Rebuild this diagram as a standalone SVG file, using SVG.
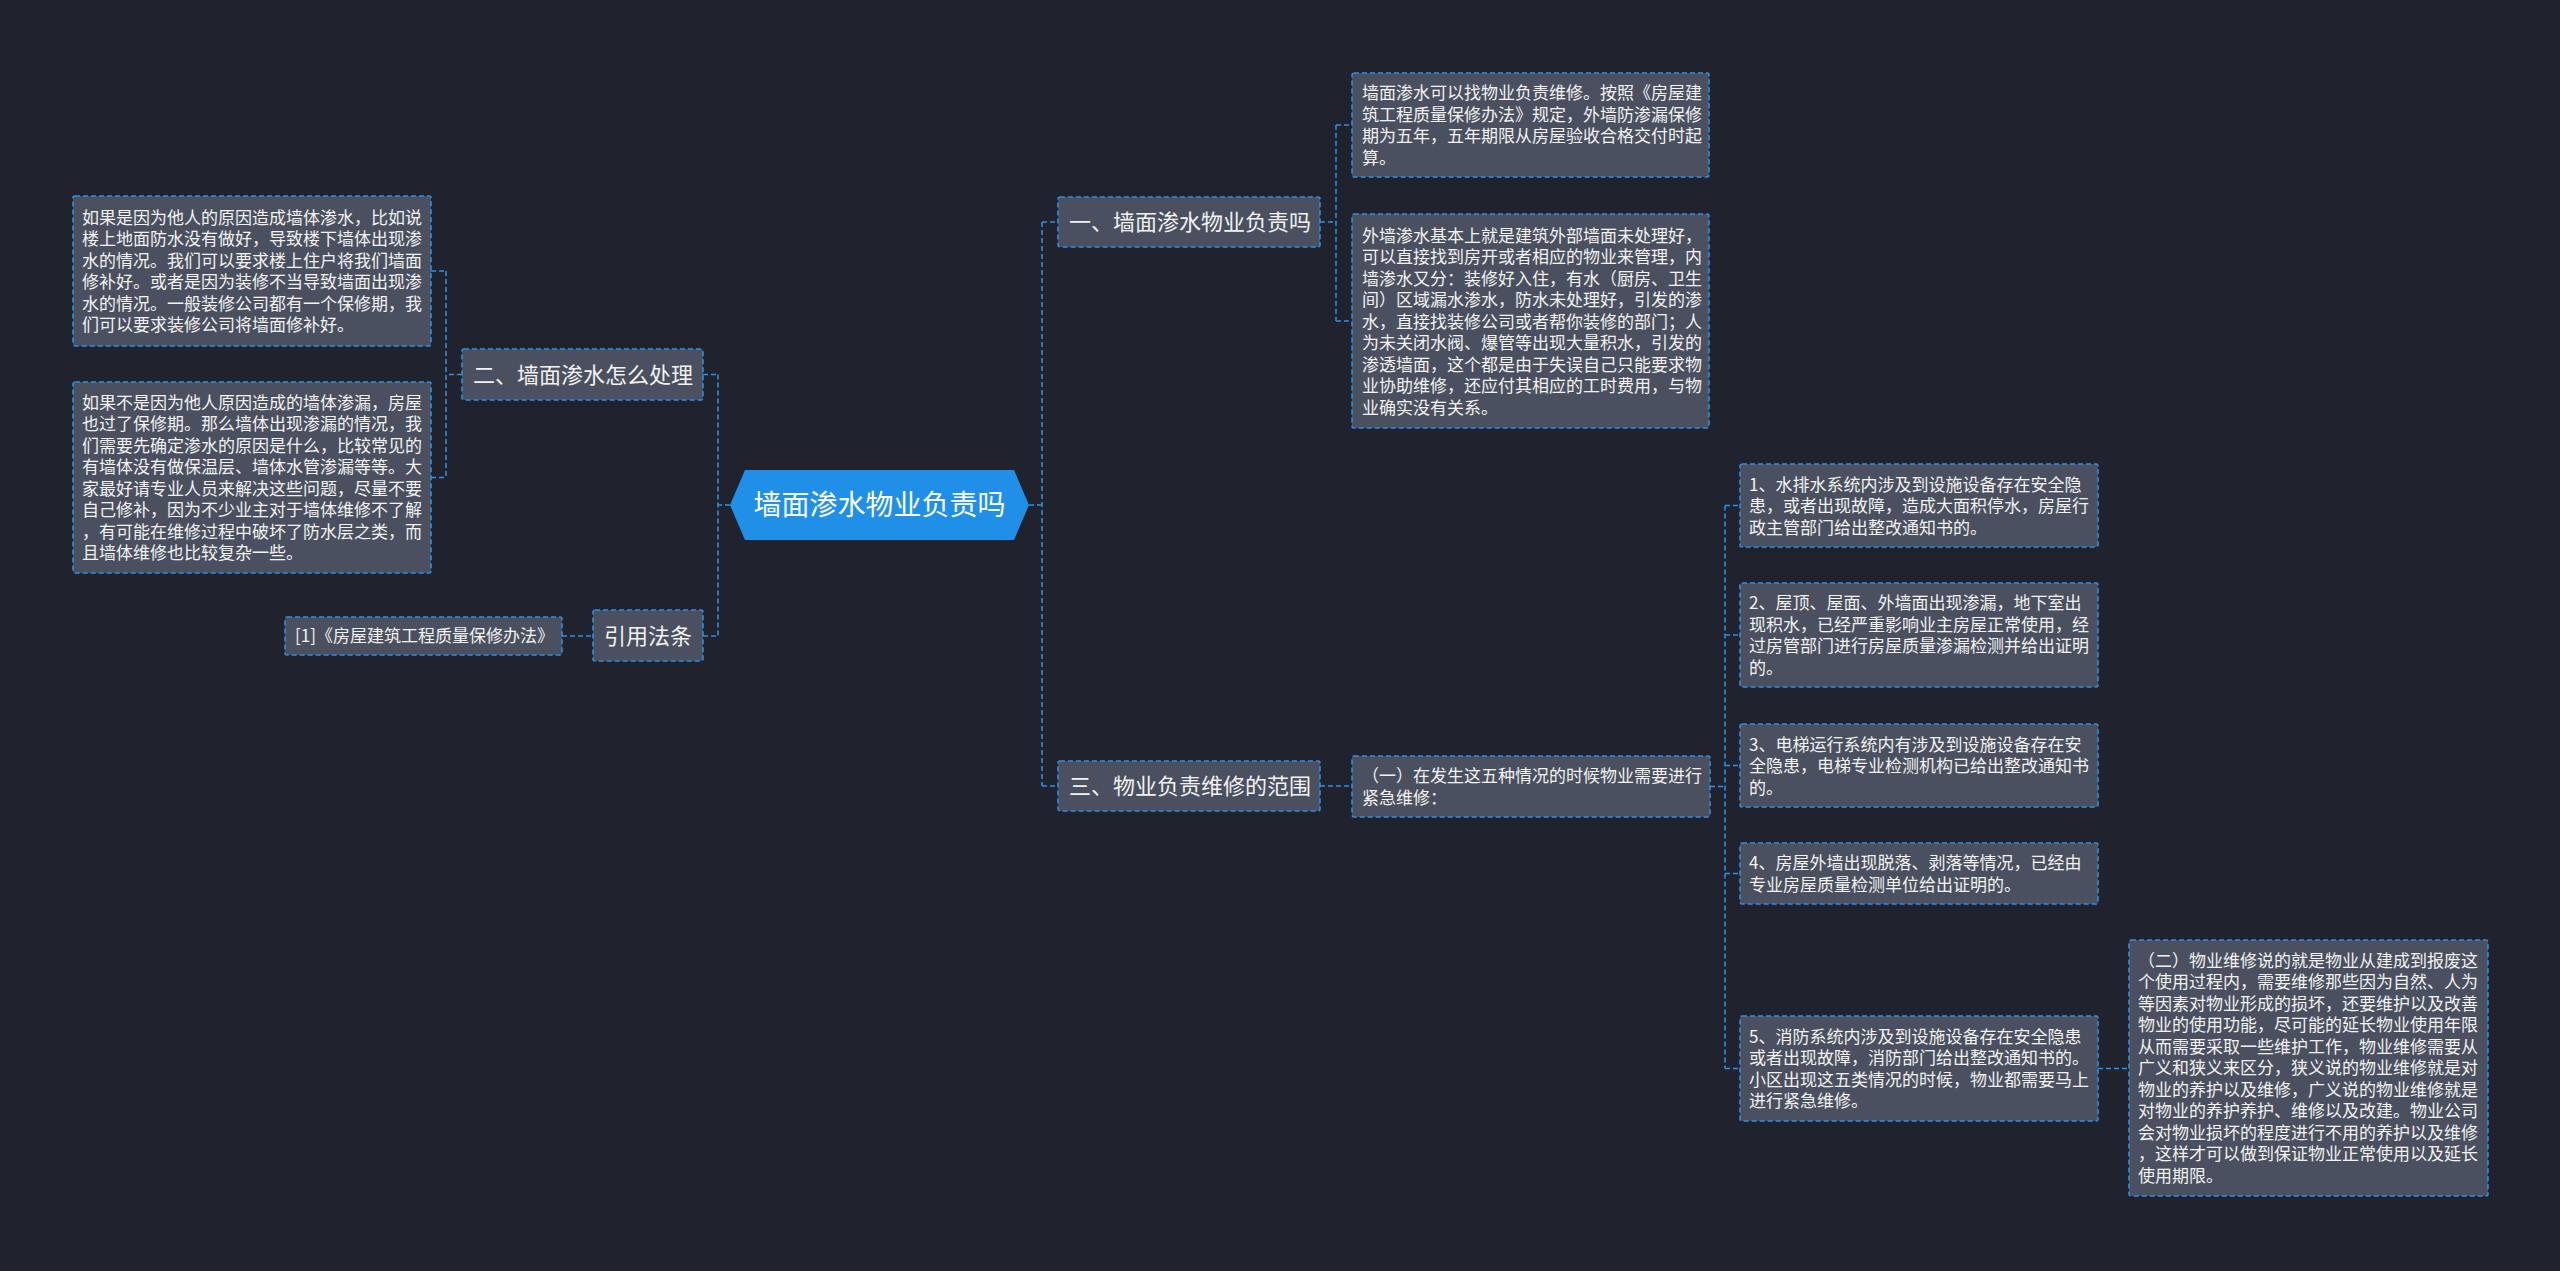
<svg xmlns="http://www.w3.org/2000/svg" width="2560" height="1271" viewBox="0 0 2560 1271">
<style>
.bg{fill:#20232d}
.box{fill:#4a505f;stroke:#2d8fe3;stroke-width:1.6;stroke-dasharray:5 3}
.ln{fill:none;stroke:#2d8fe3;stroke-width:1.6;stroke-dasharray:5 3}
text{font-family:"Noto Sans CJK SC","Noto Sans",sans-serif;fill:#f2f2f2}
.s{font-size:17px}
.m{font-size:22px}
.r{font-size:28px;fill:#ffffff}
</style>
<rect class="bg" x="0" y="0" width="2560" height="1271"/>
<g id="connectors">
<path class="ln" d="M730 505 H718 M718 374.5 V636 M703 374.5 H718 M703 636 H718"/>
<path class="ln" d="M462 374.5 H446 M446 271 V477.5 M431 271 H446 M431 477.5 H446"/>
<path class="ln" d="M562 636 H593"/>
<path class="ln" d="M1029 505 H1042 M1042 222 V786 M1042 222 H1058 M1042 786 H1058"/>
<path class="ln" d="M1320 222 H1336 M1336 125 V321 M1336 125 H1352 M1336 321 H1352"/>
<path class="ln" d="M1320 786 H1352"/>
<path class="ln" d="M1710 786.5 H1725 M1725 505.5 V1068.5 M1725 505.5 H1740 M1725 635 H1740 M1725 765.5 H1740 M1725 873.5 H1740 M1725 1068.5 H1740"/>
<path class="ln" d="M2098 1068.5 H2129"/>
</g>
<g id="root">
<polygon points="730,505 745,470 1014,470 1029,505 1014,540 745,540" fill="#1f8fe8"/>
<text class="r" x="879.5" y="515" text-anchor="middle">墙面渗水物业负责吗</text>
</g>
<g id="n2">
<rect class="box" x="462" y="349" width="241" height="51" rx="2"/>
<text class="m" x="473" y="382.5">二、墙面渗水怎么处理</text>
</g>
<g id="n2a">
<rect class="box" x="73" y="196" width="358" height="150" rx="2"/>
<text class="s" x="82" y="223.5">如果是因为他人的原因造成墙体渗水，比如说</text>
<text class="s" x="82" y="245">楼上地面防水没有做好，导致楼下墙体出现渗</text>
<text class="s" x="82" y="266.5">水的情况。我们可以要求楼上住户将我们墙面</text>
<text class="s" x="82" y="288">修补好。或者是因为装修不当导致墙面出现渗</text>
<text class="s" x="82" y="309.5">水的情况。一般装修公司都有一个保修期，我</text>
<text class="s" x="82" y="331">们可以要求装修公司将墙面修补好。</text>
</g>
<g id="n2b">
<rect class="box" x="73" y="382" width="358" height="191" rx="2"/>
<text class="s" x="82" y="408.5">如果不是因为他人原因造成的墙体渗漏，房屋</text>
<text class="s" x="82" y="430">也过了保修期。那么墙体出现渗漏的情况，我</text>
<text class="s" x="82" y="451.5">们需要先确定渗水的原因是什么，比较常见的</text>
<text class="s" x="82" y="473">有墙体没有做保温层、墙体水管渗漏等等。大</text>
<text class="s" x="82" y="494.5">家最好请专业人员来解决这些问题，尽量不要</text>
<text class="s" x="82" y="516">自己修补，因为不少业主对于墙体维修不了解</text>
<text class="s" x="82" y="537.5">，有可能在维修过程中破坏了防水层之类，而</text>
<text class="s" x="82" y="559">且墙体维修也比较复杂一些。</text>
</g>
<g id="ref">
<rect class="box" x="593" y="610" width="110" height="51" rx="2"/>
<text class="m" x="648" y="643.5" text-anchor="middle">引用法条</text>
</g>
<g id="ref1">
<rect class="box" x="285" y="617" width="277" height="38" rx="2"/>
<text class="s" x="295" y="642">[1]《房屋建筑工程质量保修办法》</text>
</g>
<g id="n1">
<rect class="box" x="1058" y="197" width="262" height="50" rx="2"/>
<text class="m" x="1069" y="230">一、墙面渗水物业负责吗</text>
</g>
<g id="n1a">
<rect class="box" x="1352" y="73" width="357" height="104" rx="2"/>
<text class="s" x="1362" y="99">墙面渗水可以找物业负责维修。按照《房屋建</text>
<text class="s" x="1362" y="120.5">筑工程质量保修办法》规定，外墙防渗漏保修</text>
<text class="s" x="1362" y="142">期为五年，五年期限从房屋验收合格交付时起</text>
<text class="s" x="1362" y="163.5">算。</text>
</g>
<g id="n1b">
<rect class="box" x="1352" y="214" width="357" height="214" rx="2"/>
<text class="s" x="1362" y="241.5">外墙渗水基本上就是建筑外部墙面未处理好，</text>
<text class="s" x="1362" y="263">可以直接找到房开或者相应的物业来管理，内</text>
<text class="s" x="1362" y="284.5">墙渗水又分：装修好入住，有水（厨房、卫生</text>
<text class="s" x="1362" y="306">间）区域漏水渗水，防水未处理好，引发的渗</text>
<text class="s" x="1362" y="327.5">水，直接找装修公司或者帮你装修的部门；人</text>
<text class="s" x="1362" y="349">为未关闭水阀、爆管等出现大量积水，引发的</text>
<text class="s" x="1362" y="370.5">渗透墙面，这个都是由于失误自己只能要求物</text>
<text class="s" x="1362" y="392">业协助维修，还应付其相应的工时费用，与物</text>
<text class="s" x="1362" y="413.5">业确实没有关系。</text>
</g>
<g id="n3">
<rect class="box" x="1058" y="761" width="262" height="50" rx="2"/>
<text class="m" x="1069" y="794">三、物业负责维修的范围</text>
</g>
<g id="n3a">
<rect class="box" x="1352" y="756" width="358" height="61" rx="2"/>
<text class="s" x="1362" y="782">（一）在发生这五种情况的时候物业需要进行</text>
<text class="s" x="1362" y="803.5">紧急维修：</text>
</g>
<g id="i1">
<rect class="box" x="1740" y="464" width="358" height="83" rx="2"/>
<text class="s" x="1749" y="490.5">1、水排水系统内涉及到设施设备存在安全隐</text>
<text class="s" x="1749" y="512">患，或者出现故障，造成大面积停水，房屋行</text>
<text class="s" x="1749" y="533.5">政主管部门给出整改通知书的。</text>
</g>
<g id="i2">
<rect class="box" x="1740" y="583" width="358" height="104" rx="2"/>
<text class="s" x="1749" y="609">2、屋顶、屋面、外墙面出现渗漏，地下室出</text>
<text class="s" x="1749" y="630.5">现积水，已经严重影响业主房屋正常使用，经</text>
<text class="s" x="1749" y="652">过房管部门进行房屋质量渗漏检测并给出证明</text>
<text class="s" x="1749" y="673.5">的。</text>
</g>
<g id="i3">
<rect class="box" x="1740" y="724" width="358" height="83" rx="2"/>
<text class="s" x="1749" y="750.5">3、电梯运行系统内有涉及到设施设备存在安</text>
<text class="s" x="1749" y="772">全隐患，电梯专业检测机构已给出整改通知书</text>
<text class="s" x="1749" y="793.5">的。</text>
</g>
<g id="i4">
<rect class="box" x="1740" y="843" width="358" height="61" rx="2"/>
<text class="s" x="1749" y="869">4、房屋外墙出现脱落、剥落等情况，已经由</text>
<text class="s" x="1749" y="890.5">专业房屋质量检测单位给出证明的。</text>
</g>
<g id="i5">
<rect class="box" x="1740" y="1016" width="358" height="105" rx="2"/>
<text class="s" x="1749" y="1042.5">5、消防系统内涉及到设施设备存在安全隐患</text>
<text class="s" x="1749" y="1064">或者出现故障，消防部门给出整改通知书的。</text>
<text class="s" x="1749" y="1085.5">小区出现这五类情况的时候，物业都需要马上</text>
<text class="s" x="1749" y="1107">进行紧急维修。</text>
</g>
<g id="n3b">
<rect class="box" x="2129" y="940" width="359" height="256" rx="2"/>
<text class="s" x="2138" y="966.5">（二）物业维修说的就是物业从建成到报废这</text>
<text class="s" x="2138" y="988">个使用过程内，需要维修那些因为自然、人为</text>
<text class="s" x="2138" y="1009.5">等因素对物业形成的损坏，还要维护以及改善</text>
<text class="s" x="2138" y="1031">物业的使用功能，尽可能的延长物业使用年限</text>
<text class="s" x="2138" y="1052.5">从而需要采取一些维护工作，物业维修需要从</text>
<text class="s" x="2138" y="1074">广义和狭义来区分，狭义说的物业维修就是对</text>
<text class="s" x="2138" y="1095.5">物业的养护以及维修，广义说的物业维修就是</text>
<text class="s" x="2138" y="1117">对物业的养护养护、维修以及改建。物业公司</text>
<text class="s" x="2138" y="1138.5">会对物业损坏的程度进行不用的养护以及维修</text>
<text class="s" x="2138" y="1160">，这样才可以做到保证物业正常使用以及延长</text>
<text class="s" x="2138" y="1181.5">使用期限。</text>
</g>
</svg>
